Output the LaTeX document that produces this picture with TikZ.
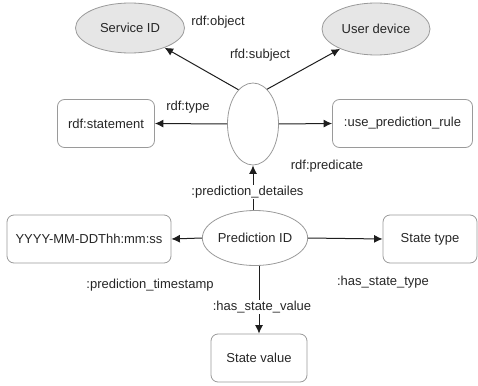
\documentclass[tikz,border=0pt]{standalone}
\usepackage{fontspec}
\setmainfont{Liberation Sans}
\usetikzlibrary{arrows.meta,shapes.geometric}
\definecolor{txt}{HTML}{262626}
\definecolor{edgec}{HTML}{9A9A9A}
\definecolor{fillg}{HTML}{E6E6E6}
\definecolor{linec}{HTML}{1E1E1E}
\begin{document}
\begin{tikzpicture}[x=1pt,y=-1pt,
  every node/.style={font=\fontsize{13}{15}\selectfont, text=txt},
  ell/.style={ellipse, draw=edgec, line width=0.8pt, inner sep=0pt},
  gell/.style={ell, fill=fillg},
  rbox/.style={rectangle, rounded corners=7pt, draw=edgec, line width=0.8pt, inner sep=0pt, minimum height=48pt},
  conn/.style={draw=linec, line width=1pt, -{Latex[length=8.5pt,width=8pt]}},
  lbl/.style={inner sep=1pt},
  wlbl/.style={lbl, fill=white}]
\useasboundingbox (0,0) rectangle (478,385);
% upper part
\node[gell, minimum width=109pt, minimum height=50pt] (sid) at (130,28) {Service ID};
\node[gell, minimum width=108pt, minimum height=52pt] (ud) at (376,29) {User device};
\node[ell, minimum width=51pt, minimum height=82pt] (st) at (253,124) {};
\node[rbox, minimum width=97pt] (rs) at (106,123.5) {rdf:statement};
\node[rbox, minimum width=140pt] (upr) at (402.5,123.5) {:use\_prediction\_rule};
% lower part
\node[ell, minimum width=104pt, minimum height=55pt] (pid) at (255,238) {Prediction ID};
\node[rbox, minimum width=164pt] (yy) at (89,239) {YYYY-MM-DDThh:mm:ss};
\node[rbox, minimum width=94pt] (stt) at (430,239) {State type};
\node[rbox, minimum width=96pt] (sv) at (259,358) {State value};
% connectors
\draw[conn] (st.113) -- (sid);
\draw[conn] (st.68) -- (ud);
\draw[conn] (st.west) -- (rs.east);
\draw[conn] (st.east) -- (upr.west);
\draw[conn] (pid.north -| st.south) -- (st.south);
\draw[conn] (pid.west) -- (yy.east);
\draw[conn] (pid.east) -- (stt.west);
\draw[conn] (pid.south -| sv.north) -- (sv.north);
% labels
\node[lbl] (lobj) at (218,22) {rdf:object};
\node[lbl] (lsub) at (260,55) {rfd:subject};
\node[lbl] (ltype) at (188,107) {rdf:type};
\node[lbl] (lpred) at (327,166) {rdf:predicate};
\node[wlbl] (ldet) at (247.5,192) {:prediction\_detailes};
\node[lbl] (lts) at (150,285) {:prediction\_timestamp};
\node[lbl] (lstt) at (383,282) {:has\_state\_type};
\node[wlbl] (lsv) at (262,307) {:has\_state\_value};
\end{tikzpicture}
\end{document}
